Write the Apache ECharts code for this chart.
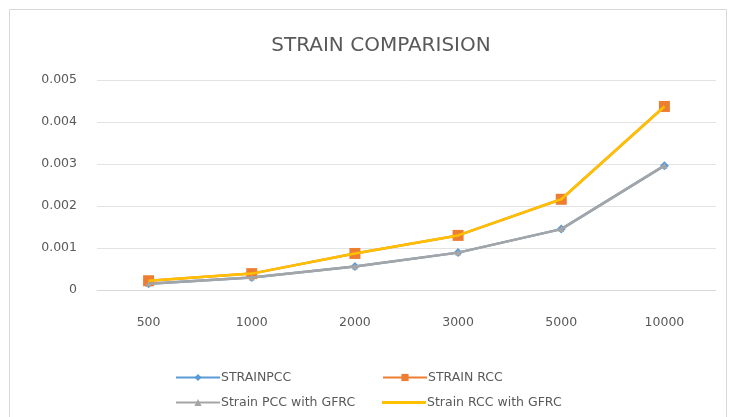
<!DOCTYPE html>
<html>
<head>
<meta charset="utf-8">
<script src="https://cdn.jsdelivr.net/npm/echarts@6/dist/echarts.min.js"></script>
<style>html,body{margin:0;padding:0;background:#fff}#c{width:731px;height:417px}</style>
</head>
<body>
<div id="c"></div>
<script>
const categories = ['500', '1000', '2000', '3000', '5000', '10000'];
const strainPCC = [0.00015, 0.0003, 0.00056, 0.00089, 0.00145, 0.00296];
const strainRCC = [0.00022, 0.00039, 0.00087, 0.0013, 0.00216, 0.00437];
const strainPCCGFRC = [0.00015, 0.0003, 0.00056, 0.00089, 0.00145, 0.00296];
const strainRCCGFRC = [0.00022, 0.00039, 0.00087, 0.0013, 0.00216, 0.00437];
const seriesNames = ['STRAINPCC', 'STRAIN RCC', 'Strain PCC with GFRC', 'Strain RCC with GFRC'];
const yTicks = [0, 0.001, 0.002, 0.003, 0.004, 0.005];

const FONT = '"DejaVu Sans", "Liberation Sans", sans-serif';
const chart = echarts.init(document.getElementById('c'));
const colors = ['#5B9BD5', '#ED7D31', '#A5A5A5', '#FFC000'];
const symbols = ['diamond', 'rect', 'triangle', 'none'];
const sizes = [9, 11, 6, 0];
const datas = [strainPCC, strainRCC, strainPCCGFRC, strainRCCGFRC];

function legendAt(i, left, top) {
  const item = symbols[i] === 'none'
    ? { name: seriesNames[i], icon: 'path://M0,0L44,0L44,3L0,3Z' }
    : { name: seriesNames[i] };
  return {
    data: [item], left: left, top: top, itemWidth: 44, itemHeight: symbols[i] === 'none' ? 3 : 9, itemGap: 0,
    textStyle: { color: '#595959', fontSize: 12.5, fontFamily: FONT, padding: [0, 0, 0, -4] }
  };
}

chart.setOption({
  animation: false,
  backgroundColor: '#fff',
  color: colors,
  title: {
    text: 'STRAIN COMPARISION', left: 376, top: 31, textAlign: 'center',
    textStyle: { color: '#595959', fontSize: 20, fontWeight: 'normal', fontFamily: FONT }
  },
  graphic: [{
    type: 'rect', shape: { x: 9.5, y: 9.5, width: 717, height: 420 },
    style: { fill: 'none', stroke: '#D9D9D9', lineWidth: 1 }, silent: true, z: -1
  }],
  legend: [legendAt(0, 170, 366), legendAt(1, 377, 366), legendAt(2, 170, 391), legendAt(3, 377, 391)],
  grid: { left: 97, right: 15, top: 80, bottom: 127 },
  xAxis: {
    type: 'category', data: categories, boundaryGap: true,
    axisLine: { lineStyle: { color: '#D9D9D9', width: 1 } },
    axisTick: { show: false },
    axisLabel: { color: '#595959', fontSize: 12.5, fontFamily: FONT, margin: 26 }
  },
  yAxis: {
    type: 'value', min: 0, max: 0.005, interval: 0.001,
    axisLine: { show: false }, axisTick: { show: false },
    splitLine: { lineStyle: { color: '#E3E3E3', width: 1 } },
    axisLabel: { color: '#595959', fontSize: 12.5, fontFamily: FONT, margin: 20,
      formatter: v => { const t = yTicks.find(x => Math.abs(x - v) < 1e-9); return t === 0 ? '0' : String(t); } }
  },
  series: datas.map((d, i) => ({
    name: seriesNames[i], type: 'line', data: d,
    symbol: symbols[i], symbolSize: sizes[i], showSymbol: symbols[i] !== 'none',
    lineStyle: { width: 2.5, color: colors[i] },
    itemStyle: { color: colors[i] },
    z: 2 + i
  }))
});
</script>
</body>
</html>
